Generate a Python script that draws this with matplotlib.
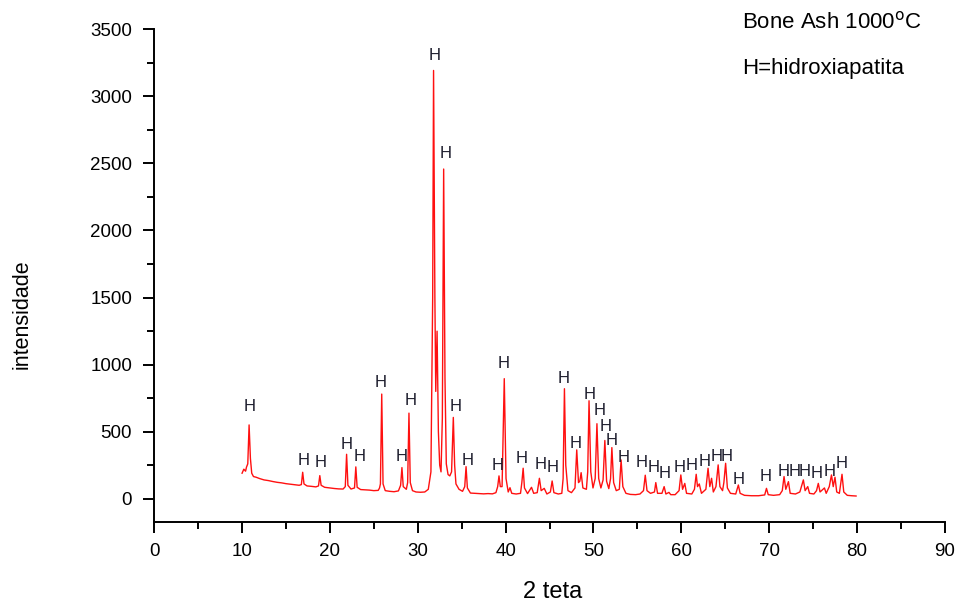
import matplotlib
matplotlib.use("Agg")
import matplotlib.pyplot as plt
from matplotlib.ticker import MultipleLocator

plt.rcParams['font.family'] = ['Liberation Sans', 'DejaVu Sans']

# XRD trace (2 theta, intensity)
two_theta = [
    10.0, 10.2, 10.4, 10.5, 10.65, 10.8, 10.95, 11.1, 11.3, 11.6, 12.0, 12.5, 13.0, 13.5, 14.0,
    14.5, 15.0, 15.5, 16.0, 16.5, 16.75, 16.9, 17.05, 17.4, 17.9, 18.4, 18.7, 18.85, 19.0, 19.4,
    20.0, 20.5, 21.0, 21.5, 21.75, 21.9, 22.05, 22.4, 22.8, 22.95, 23.1, 23.5, 24.0, 24.5, 25.0,
    25.5, 25.65, 25.75, 25.9, 26.05, 26.3, 26.8, 27.3, 27.8, 28.05, 28.2, 28.35, 28.7, 28.85, 29.0,
    29.15, 29.4, 29.8, 30.3, 30.8, 31.2, 31.5, 31.7, 31.8, 31.95, 32.05, 32.2, 32.35, 32.5, 32.65,
    32.8, 32.95, 33.1, 33.25, 33.45, 33.65, 33.85, 34.05, 34.2, 34.35, 34.7, 35.1, 35.35, 35.5, 35.65,
    36.0, 36.5, 37.0, 37.5, 38.0, 38.5, 38.9, 39.1, 39.25, 39.4, 39.6, 39.85, 40.05, 40.3, 40.5,
    40.7, 41.2, 41.7, 41.85, 42.0, 42.15, 42.5, 42.95, 43.2, 43.6, 43.85, 44.05, 44.4, 44.7, 45.1,
    45.3, 45.5, 46.0, 46.4, 46.55, 46.7, 46.85, 47.1, 47.5, 47.9, 48.1, 48.3, 48.45, 48.6, 48.8,
    49.2, 49.35, 49.5, 49.7, 49.95, 50.2, 50.4, 50.6, 50.85, 51.1, 51.3, 51.5, 51.75, 51.95, 52.1,
    52.3, 52.6, 52.95, 53.15, 53.35, 53.7, 54.2, 54.8, 55.3, 55.7, 55.9, 56.1, 56.5, 56.95, 57.1,
    57.3, 57.8, 58.05, 58.25, 58.6, 58.8, 59.3, 59.75, 59.95, 60.15, 60.4, 60.6, 61.2, 61.5, 61.7,
    61.85, 62.05, 62.3, 62.8, 63.05, 63.25, 63.45, 63.65, 63.95, 64.2, 64.4, 64.7, 64.85, 65.05, 65.25,
    65.6, 66.2, 66.5, 66.7, 67.2, 68.0, 68.8, 69.5, 69.7, 69.9, 70.5, 71.2, 71.5, 71.7, 71.9,
    72.2, 72.4, 73.0, 73.5, 73.9, 74.1, 74.4, 74.6, 75.1, 75.4, 75.6, 75.8, 76.3, 76.5, 76.85,
    77.1, 77.3, 77.5, 77.7, 78.0, 78.3, 78.5, 78.9, 79.4, 79.9,
]
intensity = [
    190, 220, 205, 235, 260, 550, 300, 190, 165, 160, 150, 140, 135, 128, 122,
    118, 112, 108, 104, 100, 105, 197, 110, 95, 92, 88, 95, 172, 100, 85,
    80, 76, 73, 72, 90, 331, 100, 72, 80, 237, 85, 68, 66, 64, 60,
    62, 80, 110, 780, 110, 60, 55, 52, 58, 100, 232, 90, 70, 120, 638,
    120, 60, 50, 48, 50, 70, 200, 1500, 3193, 1500, 800, 1249, 500, 250, 200,
    600, 2458, 900, 260, 180, 170, 200, 606, 250, 110, 70, 55, 90, 239, 80,
    42, 40, 38, 36, 38, 36, 45, 90, 170, 90, 90, 895, 150, 50, 82,
    40, 35, 40, 120, 227, 80, 38, 85, 40, 45, 152, 60, 77, 35, 50,
    132, 45, 35, 40, 150, 820, 250, 60, 45, 80, 364, 120, 130, 194, 80,
    70, 200, 730, 200, 80, 150, 559, 150, 80, 140, 434, 130, 75, 150, 381,
    120, 60, 70, 289, 90, 40, 32, 30, 35, 60, 175, 60, 40, 50, 120,
    40, 40, 90, 35, 47, 30, 30, 60, 177, 70, 114, 40, 35, 70, 182,
    90, 110, 40, 70, 227, 90, 152, 50, 90, 252, 90, 60, 120, 264, 80,
    40, 35, 102, 40, 25, 22, 22, 28, 77, 30, 25, 30, 60, 165, 70,
    127, 40, 35, 50, 140, 60, 90, 40, 35, 60, 114, 50, 80, 40, 90,
    177, 90, 160, 50, 40, 182, 50, 25, 22, 20,
]

# "H" marks above the hydroxyapatite peaks
h_x = [10.9, 17.0, 19.0, 21.9, 23.4, 25.8, 28.2, 29.2, 31.9, 33.2, 34.3, 35.7, 39.1, 39.8,
       41.8, 44.0, 45.4, 46.6, 48.0, 49.6, 50.7, 51.4, 52.1, 53.4, 55.5, 56.8, 58.1, 59.8,
       61.2, 62.7, 64.0, 65.2, 66.5, 69.6, 71.6, 72.9, 74.1, 75.4, 76.9, 78.3]
h_y = [688, 284, 269, 404, 314, 868, 314, 733, 3306, 2573, 688, 284, 247, 1010,
       299, 254, 232, 898, 411, 778, 658, 539, 434, 307, 269, 232, 187, 232,
       247, 277, 314, 314, 142, 165, 202, 202, 202, 187, 202, 262]

fig = plt.figure(figsize=(9.7, 6.1), dpi=100)
ax = fig.add_axes([0.159, 0.144, 0.815, 0.808])

ax.plot(two_theta, intensity, color='#ff1010', lw=1.0)
for x, y in zip(h_x, h_y):
    ax.text(x, y, 'H', ha='center', va='center', fontsize=12, color='#1c1c2c')

ax.set_xlim(0, 90)
ax.set_ylim(-175, 3500)
ax.xaxis.set_major_locator(MultipleLocator(10))
ax.xaxis.set_minor_locator(MultipleLocator(5))
ax.yaxis.set_major_locator(MultipleLocator(500))
ax.yaxis.set_minor_locator(MultipleLocator(250))
ax.spines['top'].set_visible(False)
ax.spines['right'].set_visible(False)
for s in ['left', 'bottom']:
    ax.spines[s].set_linewidth(1.4)
ax.tick_params(which='major', direction='out', length=8, width=1.4, labelsize=13.5)
ax.tick_params(axis='y', which='major', pad=8)
ax.tick_params(axis='x', which='major', pad=7)
ax.tick_params(which='minor', direction='out', length=5, width=1.4)

fig.text(0.570, 0.030, '2 teta', fontsize=17, ha='center', va='center')
fig.text(0.023, 0.485, 'intensidade', fontsize=15.5, rotation=90, ha='center', va='center')

fig.text(0.765, 0.963, 'Bone Ash 1000$^{\\mathrm{o}}$C', fontsize=16, va='center')
fig.text(0.765, 0.888, 'H=hidroxiapatita', fontsize=16, va='center')

plt.savefig('out.png', format='png')
